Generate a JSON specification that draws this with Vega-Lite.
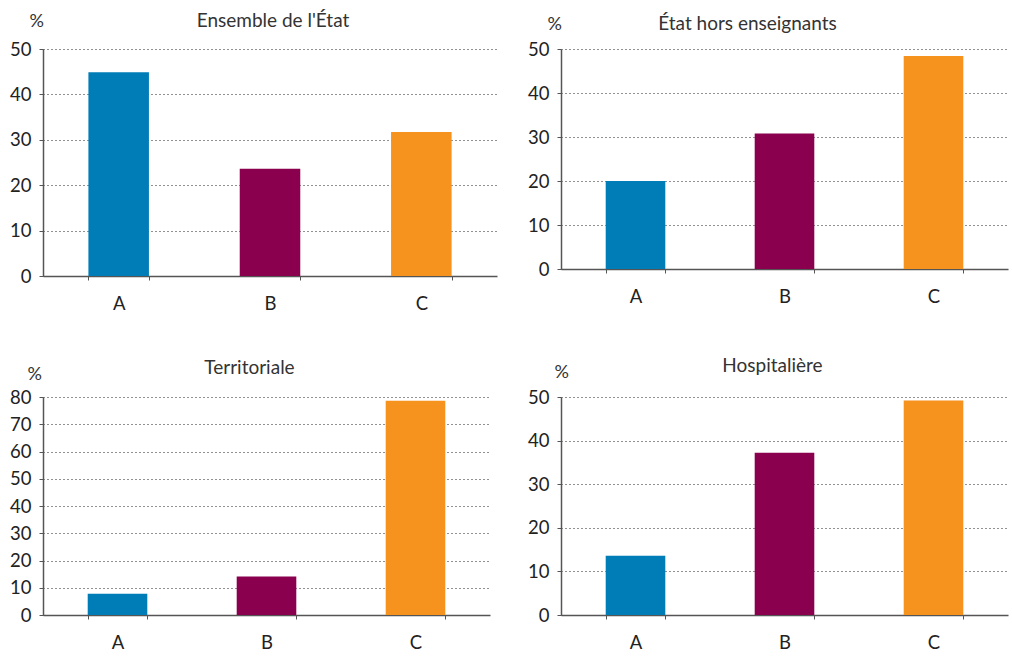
{
  "$schema": "https://vega.github.io/schema/vega-lite/v6.json",
  "padding": {"left": 9, "top": 12, "right": 4, "bottom": 4},
  "background": "white",
  "config": {
    "font": "Lato",
    "view": {"stroke": null},
    "title": {"fontSize": 19, "fontWeight": "normal", "color": "#333333", "frame": "group", "anchor": "middle", "offset": -19},
    "axis": {"labelFont": "Lato", "labelFontSize": 18.5, "labelColor": "#222222", "titleFont": "Lato", "titleFontSize": 18, "titleFontWeight": "normal", "titleColor": "#333333", "domainColor": "#555555", "tickColor": "#555555", "tickSize": 4}
  },
  "data": {"values": [
    {"panel": "p1", "cat": "A", "value": 44.9},
    {"panel": "p1", "cat": "B", "value": 23.6},
    {"panel": "p1", "cat": "C", "value": 31.7},
    {"panel": "p2", "cat": "A", "value": 20.0},
    {"panel": "p2", "cat": "B", "value": 30.8},
    {"panel": "p2", "cat": "C", "value": 48.4},
    {"panel": "p3", "cat": "A", "value": 7.8},
    {"panel": "p3", "cat": "B", "value": 14.1},
    {"panel": "p3", "cat": "C", "value": 78.6},
    {"panel": "p4", "cat": "A", "value": 13.6},
    {"panel": "p4", "cat": "B", "value": 37.2},
    {"panel": "p4", "cat": "C", "value": 49.2}
  ]},
  "columns": 2,
  "spacing": {"row": 44, "column": 30},
  "concat": [
    {
      "title": {"text": "Ensemble de l'État", "dx": 3},
      "width": 454, "height": 227,
      "transform": [{"filter": "datum.panel === 'p1'"}],
      "mark": {"type": "bar"},
      "encoding": {
        "x": {"field": "cat", "type": "nominal", "sort": ["A", "B", "C"], "scale": {"paddingInner": 0.6, "paddingOuter": 0.3},
              "axis": {"title": null, "labelAngle": 0, "tickBand": "extent", "labelPadding": 14, "domainWidth": 1.5}},
        "y": {"field": "value", "type": "quantitative", "scale": {"domain": [0, 50], "nice": false},
              "axis": {"values": [0, 10, 20, 30, 40, 50], "title": "%", "titleAngle": 0, "titleAlign": "left", "titleBaseline": "bottom", "titleX": -14, "titleY": -19, "labelPadding": 8, "grid": true, "gridDash": [1, 3], "gridColor": "#222222", "domainWidth": 1.5}},
        "color": {"field": "cat", "type": "nominal", "scale": {"domain": ["A", "B", "C"], "range": ["#007DB7", "#8A004F", "#F6921E"]}, "legend": null}
      }
    },
    {
      "title": {"text": "État hors enseignants", "dx": -37},
      "width": 447, "height": 220,
      "transform": [{"filter": "datum.panel === 'p2'"}],
      "mark": {"type": "bar"},
      "encoding": {
        "x": {"field": "cat", "type": "nominal", "sort": ["A", "B", "C"], "scale": {"paddingInner": 0.6, "paddingOuter": 0.3},
              "axis": {"title": null, "labelAngle": 0, "tickBand": "extent", "labelPadding": 14, "domainWidth": 1.5}},
        "y": {"field": "value", "type": "quantitative", "scale": {"domain": [0, 50], "nice": false},
              "axis": {"values": [0, 10, 20, 30, 40, 50], "title": "%", "titleAngle": 0, "titleAlign": "left", "titleBaseline": "bottom", "titleX": -14, "titleY": -16, "labelPadding": 8, "grid": true, "gridDash": [1, 3], "gridColor": "#222222", "domainWidth": 1.5}},
        "color": {"field": "cat", "type": "nominal", "scale": {"domain": ["A", "B", "C"], "range": ["#007DB7", "#8A004F", "#F6921E"]}, "legend": null}
      }
    },
    {
      "title": {"text": "Territoriale", "dx": -17, "offset": -13},
      "width": 447, "height": 218,
      "transform": [{"filter": "datum.panel === 'p3'"}],
      "mark": {"type": "bar"},
      "encoding": {
        "x": {"field": "cat", "type": "nominal", "sort": ["A", "B", "C"], "scale": {"paddingInner": 0.6, "paddingOuter": 0.3},
              "axis": {"title": null, "labelAngle": 0, "tickBand": "extent", "labelPadding": 14, "domainWidth": 1.5}},
        "y": {"field": "value", "type": "quantitative", "scale": {"domain": [0, 80], "nice": false},
              "axis": {"values": [0, 10, 20, 30, 40, 50, 60, 70, 80], "title": "%", "titleAngle": 0, "titleAlign": "left", "titleBaseline": "bottom", "titleX": -16, "titleY": -14, "labelPadding": 8, "grid": true, "gridDash": [1, 3], "gridColor": "#222222", "domainWidth": 1.5}},
        "color": {"field": "cat", "type": "nominal", "scale": {"domain": ["A", "B", "C"], "range": ["#007DB7", "#8A004F", "#F6921E"]}, "legend": null}
      }
    },
    {
      "title": {"text": "Hospitalière", "dx": -12, "offset": -13},
      "width": 447, "height": 218,
      "transform": [{"filter": "datum.panel === 'p4'"}],
      "mark": {"type": "bar"},
      "encoding": {
        "x": {"field": "cat", "type": "nominal", "sort": ["A", "B", "C"], "scale": {"paddingInner": 0.6, "paddingOuter": 0.3},
              "axis": {"title": null, "labelAngle": 0, "tickBand": "extent", "labelPadding": 14, "domainWidth": 1.5}},
        "y": {"field": "value", "type": "quantitative", "scale": {"domain": [0, 50], "nice": false},
              "axis": {"values": [0, 10, 20, 30, 40, 50], "title": "%", "titleAngle": 0, "titleAlign": "left", "titleBaseline": "bottom", "titleX": -7, "titleY": -16, "labelPadding": 8, "grid": true, "gridDash": [1, 3], "gridColor": "#222222", "domainWidth": 1.5}},
        "color": {"field": "cat", "type": "nominal", "scale": {"domain": ["A", "B", "C"], "range": ["#007DB7", "#8A004F", "#F6921E"]}, "legend": null}
      }
    }
  ]
}
